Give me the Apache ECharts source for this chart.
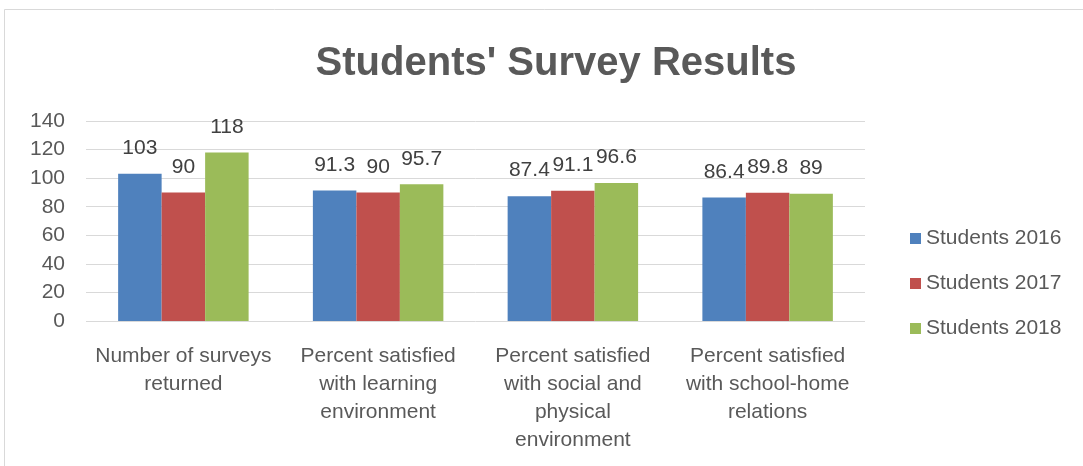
<!DOCTYPE html>
<html>
<head>
<meta charset="utf-8">
<title>Students' Survey Results</title>
<script src="https://cdn.jsdelivr.net/npm/echarts@6/dist/echarts.min.js"></script>
<style>
  html, body { margin: 0; padding: 0; background: #ffffff; }
  #chart { width: 1083px; height: 466px; }
</style>
</head>
<body>
<div id="chart"></div>
<script>
// Survey categories (line breaks as shown under the axis)
const categories = [
  'Number of surveys\nreturned',
  'Percent satisfied\nwith learning\nenvironment',
  'Percent satisfied\nwith social and\nphysical\nenvironment',
  'Percent satisfied\nwith school-home\nrelations'
];

// Results per year
const students2016 = [103, 91.3, 87.4, 86.4];
const students2017 = [90, 90, 91.1, 89.8];
const students2018 = [118, 95.7, 96.6, 89];

const seriesNames = ['Students 2016', 'Students 2017', 'Students 2018'];
const seriesData = [students2016, students2017, students2018];
const seriesColors = ['#4f81bd', '#c0504d', '#9bbb59'];

// Value axis ticks
const yMin = 0, yMax = 140, yStep = 20;

const FONT = '"Liberation Sans", Arial, sans-serif';
const TEXT = '#595959';

const chart = echarts.init(document.getElementById('chart'), null, { renderer: 'canvas' });

chart.setOption({
  animation: false,
  backgroundColor: '#ffffff',
  textStyle: { fontFamily: FONT },
  graphic: [{
    type: 'rect',
    silent: true,
    shape: { x: 4.5, y: 9.5, width: 1200, height: 600 },
    style: { fill: 'none', stroke: '#d9d9d9', lineWidth: 1 }
  }],
  title: {
    text: "Students' Survey Results",
    left: 551,
    textAlign: 'center',
    top: 39,
    textStyle: { fontFamily: FONT, fontSize: 40, fontWeight: 'bold', color: TEXT }
  },
  legend: {
    orient: 'vertical',
    left: 905,
    top: 223,
    itemWidth: 11,
    itemHeight: 11,
    itemGap: 24,
    icon: 'rect',
    data: seriesNames,
    textStyle: { fontFamily: FONT, fontSize: 21, color: TEXT, padding: [0, 0, 0, 0] }
  },
  grid: { left: 86, right: 218, top: 121, bottom: 145, containLabel: false },
  xAxis: {
    type: 'category',
    data: categories,
    axisLine: { show: false },
    axisTick: { show: false },
    axisLabel: {
      interval: 0,
      margin: 21,
      fontFamily: FONT,
      fontSize: 21,
      lineHeight: 28,
      color: TEXT,
      align: 'center'
    }
  },
  yAxis: {
    type: 'value',
    min: yMin,
    max: yMax,
    interval: yStep,
    axisLine: { show: false },
    axisTick: { show: false },
    axisLabel: { fontFamily: FONT, fontSize: 21, color: TEXT, margin: 21 },
    splitLine: { lineStyle: { color: '#d9d9d9', width: 1 } }
  },
  series: seriesNames.map((name, i) => ({
    name: name,
    type: 'bar',
    data: seriesData[i],
    barGap: '0%',
    barCategoryGap: '33%',
    itemStyle: { color: seriesColors[i] },
    label: {
      show: true,
      position: 'top',
      distance: 15,
      fontFamily: FONT,
      fontSize: 21,
      color: '#404040'
    }
  }))
});
</script>
</body>
</html>
